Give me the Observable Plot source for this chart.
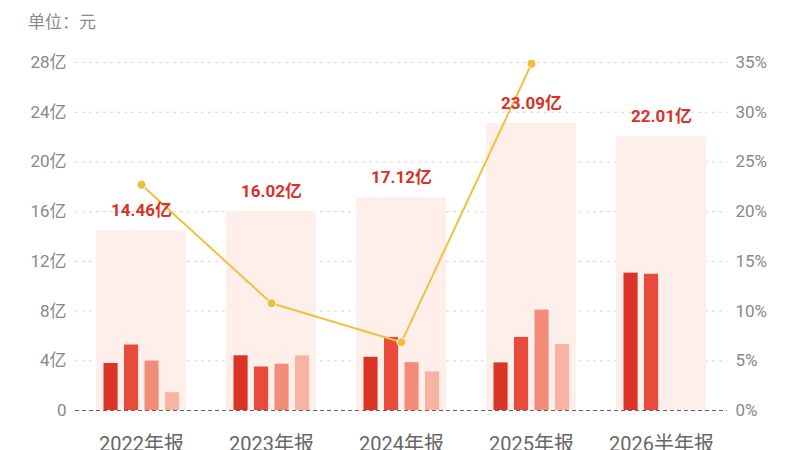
<!DOCTYPE html>
<html><head><meta charset="utf-8">
<script src="https://cdn.jsdelivr.net/npm/d3@7"></script>
<script src="https://cdn.jsdelivr.net/npm/@observablehq/plot@0.6"></script>
<style>
body{margin:0;background:#fff;overflow:hidden;font-family:Roboto,"Noto Sans CJK SC",sans-serif;}
#unit{height:40px;line-height:44px;padding-left:28px;font-size:17px;color:#8a8a8a;}
</style></head><body>
<div id="unit">单位：元</div>
<div id="chart"></div>
<script>
const periods = ["2022年报","2023年报","2024年报","2025年报","2026半年报"];
const totals = [14.46, 16.02, 17.12, 23.09, 22.01];
const totalLabels = ["14.46亿","16.02亿","17.12亿","23.09亿","22.01亿"];
const q1 = [3.78, 4.40, 4.28, 3.83, 11.05];
const q2 = [5.27, 3.50, 5.88, 5.88, 10.96];
const q3 = [3.98, 3.72, 3.85, 8.08, null];
const q4 = [1.43, 4.40, 3.11, 5.30, null];
const growthPeriods = ["2022年报","2023年报","2024年报","2025年报"];
const growth = [22.7, 10.79, 6.87, 34.87];
const leftTicks = [0,4,8,12,16,20,24,28];
const rightTicks = [0,5,10,15,20,25,30,35];

const scale = 28/35;
const totalData = periods.map((p,i)=>({p, v: totals[i], label: totalLabels[i]}));
const qSeries = [q1,q2,q3,q4];
const qColors = ["#DA3426","#E84B3C","#F28B78","#F9B3A3"];
const growthData = growthPeriods.map((p,i)=>({p, g: growth[i], y: growth[i]*scale}));

const step = 652/5;
const barW = 14.5, gap = 20.5, start = 27.5;
const qMarks = qSeries.map((s,q)=>{
  const data = periods.map((p,i)=>({p, v: s[i]})).filter(d=>d.v!=null);
  const left = start + q*gap;
  return Plot.barY(data, {x:"p", y:"v", fill: qColors[q], insetLeft: left, insetRight: step - left - barW});
});

const chart = Plot.plot({
  width: 800, height: 430,
  marginTop: 22, marginBottom: 60, marginLeft: 75, marginRight: 73,
  style: {fontFamily: 'Roboto,"Noto Sans CJK SC",sans-serif', background: "#fff"},
  x: {domain: periods, padding: 0, label: null},
  y: {domain: [0,28], label: null},
  marks: [
    Plot.ruleY(leftTicks.filter(d=>d>0), {stroke:"#d6d6d6", strokeDasharray:"3,4"}),
    Plot.barY(totalData, {x:"p", y:"v", fill:"#FEEFEB", insetLeft:20, insetRight:20}),
    ...qMarks,
    Plot.ruleY([0], {stroke:"#666", strokeDasharray:"4,3"}),
    Plot.line(growthData, {x:"p", y:"y", stroke:"#F0C040", strokeWidth:2}),
    Plot.dot(growthData, {x:"p", y:"y", r:4.5, fill:"#F2BC3E", stroke:"#fff", strokeWidth:1}),
    Plot.text(totalData, {x:"p", y:"v", text:"label", dy:-20, fill:"#D8322A", fontSize:17, fontWeight:"bold"}),
    Plot.axisY(leftTicks, {anchor:"left", tickSize:0, tickPadding:9, fontSize:17, color:"#888",
      tickFormat: d => d===0 ? "0" : d+"亿"}),
    Plot.axisY(rightTicks.map(d=>d*scale), {anchor:"right", tickSize:0, tickPadding:8, fontSize:17, color:"#888",
      tickFormat: d => Math.round(d/scale)+"%"}),
    Plot.axisX({tickSize:0, tickPadding:26, fontSize:20, color:"#666"})
  ]
});
document.getElementById("chart").append(chart);
</script>
</body></html>
